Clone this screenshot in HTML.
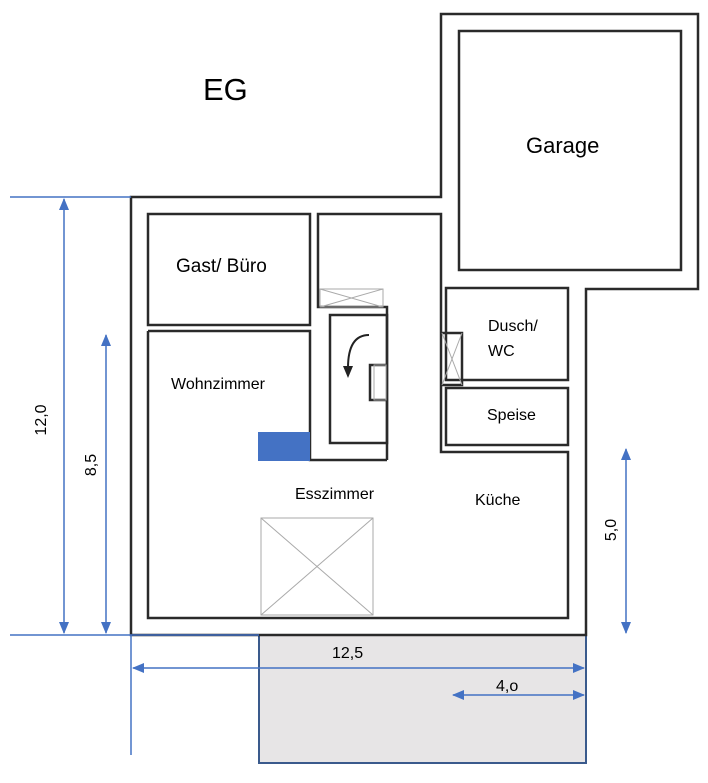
<!DOCTYPE html>
<html><head><style>body{margin:0;background:#fff}svg{display:block}text{font-family:"Liberation Sans",sans-serif;fill:#000}</style></head><body>
<svg width="708" height="783" viewBox="0 0 708 783">
<defs><marker id="a" markerWidth="12" markerHeight="10" refX="11" refY="5" orient="auto-start-reverse" markerUnits="userSpaceOnUse"><path d="M0,0L12,5L0,10z" fill="#4472c4"/></marker></defs>
<rect x="259" y="635" width="327" height="128" fill="#e7e5e6" stroke="#3a5a8c" stroke-width="2"/>
<g fill="none" stroke="#2a2a2a" stroke-width="2.5">
<path d="M131,197H441V14H698V289H586V635H131Z"/>
<rect x="459" y="31" width="222" height="239"/>
<path d="M148,214H310V325H148Z"/>
<path d="M148,331H310V460H387"/>
<path d="M148,331V618H568V452H441V214H318V307H387V460"/>
<rect x="330" y="315" width="57" height="128"/>
<path d="M387,365H370V400H387"/>
<rect x="446" y="288" width="122" height="92"/>
<rect x="446" y="388" width="122" height="57"/>
<path d="M441,333H462V385H441"/>
</g>
<g stroke="#aaa" stroke-width="1" fill="none">
<path d="M320,289H383V307H320ZM320,289L383,307M383,289L320,307"/>
<path d="M442,333L462,385M462,333L442,385"/>
<path d="M261,518H373V615H261ZM261,518L373,615M373,518L261,615"/>
<path d="M374,365H386V400H374Z"/>
</g>
<path d="M369,335Q348,335 348,368" fill="none" stroke="#222" stroke-width="2"/>
<path d="M343,366L353,366L348,378Z" fill="#222"/>
<rect x="258" y="432" width="52" height="29" fill="#4472c4"/>
<g stroke="#4472c4" stroke-width="1.5" fill="none">
<line x1="10" y1="197" x2="131" y2="197"/><line x1="10" y1="635" x2="259" y2="635"/>
<line x1="131" y1="635" x2="131" y2="755"/>
<line x1="64" y1="199" x2="64" y2="633" marker-start="url(#a)" marker-end="url(#a)"/>
<line x1="106" y1="335" x2="106" y2="633" marker-start="url(#a)" marker-end="url(#a)"/>
<line x1="626" y1="449" x2="626" y2="633" marker-start="url(#a)" marker-end="url(#a)"/>
<line x1="133" y1="668" x2="584" y2="668" marker-start="url(#a)" marker-end="url(#a)"/>
<line x1="453" y1="695" x2="584" y2="695" marker-start="url(#a)" marker-end="url(#a)"/>
</g>
<text x="203" y="100" font-size="31">EG</text>
<text x="526" y="153" font-size="22">Garage</text>
<text x="176" y="272" font-size="19">Gast/ Büro</text>
<text x="171" y="389" font-size="16">Wohnzimmer</text>
<text x="488" y="331" font-size="16">Dusch/</text>
<text x="488" y="356" font-size="16">WC</text>
<text x="487" y="420" font-size="16">Speise</text>
<text x="295" y="499" font-size="16">Esszimmer</text>
<text x="475" y="505" font-size="16">Küche</text>
<text x="332" y="658" font-size="16">12,5</text>
<text x="496" y="691" font-size="16">4,o</text>
<text transform="translate(46,420) rotate(-90)" font-size="16" text-anchor="middle">12,0</text>
<text transform="translate(96,465) rotate(-90)" font-size="16" text-anchor="middle">8,5</text>
<text transform="translate(616,530) rotate(-90)" font-size="16" text-anchor="middle">5,0</text>
</svg>
</body></html>
